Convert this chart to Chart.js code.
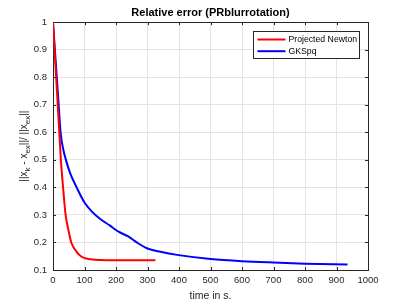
<!DOCTYPE html>
<html>
<head>
<meta charset="utf-8">
<script src="https://cdn.jsdelivr.net/npm/chart.js@4"></script>
<style>
    html, body { margin: 0; padding: 0; background: #fff; }
</style>
</head>
<body>
<canvas id="error-chart" width="407" height="304"></canvas>
<script>
// Relative error vs. time

// Projected Newton
const newtonTime  = [0, 5, 10, 15, 20, 25, 32, 40, 49, 58, 75, 91, 112, 150, 200, 325];
const newtonError = [1, 0.9, 0.8, 0.7, 0.6, 0.5, 0.4, 0.3, 0.245, 0.2, 0.166, 0.148, 0.14, 0.136, 0.135, 0.135];

// GKSpq
const gksTime  = [0, 6, 12, 18, 24, 33, 41, 55, 75, 100, 122, 150, 180, 208, 240, 266, 298, 341, 399, 500, 600, 700, 800, 935];
const gksError = [1, 0.9, 0.8, 0.7, 0.6, 0.536, 0.5, 0.45, 0.4, 0.345, 0.314, 0.285, 0.262, 0.239, 0.221, 0.2, 0.179, 0.166, 0.154, 0.14, 0.132, 0.127, 0.123, 0.12];

const xTicks = [0, 100, 200, 300, 400, 500, 600, 700, 800, 900, 1000];
const yTicks = [0.1, 0.2, 0.3, 0.4, 0.5, 0.6, 0.7, 0.8, 0.9, 1];

const AXIS_COLOR = '#262626';
const FONT = '"Liberation Sans", Arial, Helvetica, sans-serif';

function toPoints(xs, ys) {
    return xs.map(function(x, i) { return { x: x, y: ys[i] }; });
}

// Box around the axes with inward tick marks (MATLAB style)
const axesBox = {
    id: 'axesBox',
    beforeDatasetsDraw(chart) {
        const ctx = chart.ctx;
        const a = chart.chartArea;
        const xs = chart.scales.x, ys = chart.scales.y;
        ctx.save();
        ctx.strokeStyle = AXIS_COLOR;
        ctx.lineWidth = 1;
        ctx.strokeRect(Math.round(a.left) + 0.5, Math.round(a.top) + 0.5,
                       Math.round(a.right - a.left), Math.round(a.bottom - a.top));
        ctx.beginPath();
        xTicks.forEach(function(v) {
            const px = Math.round(xs.getPixelForValue(v)) + 0.5;
            ctx.moveTo(px, a.bottom); ctx.lineTo(px, a.bottom - 3);
            ctx.moveTo(px, a.top); ctx.lineTo(px, a.top + 3);
        });
        yTicks.forEach(function(v) {
            const py = Math.round(ys.getPixelForValue(v)) + 0.5;
            ctx.moveTo(a.left, py); ctx.lineTo(a.left + 3, py);
            ctx.moveTo(a.right, py); ctx.lineTo(a.right - 3, py);
        });
        ctx.stroke();
        ctx.restore();
    }
};

// y axis label with subscripts, rotated
const yLabel = {
    id: 'yLabel',
    afterDraw(chart) {
        const ctx = chart.ctx;
        const a = chart.chartArea;
        const parts = [['||x', 0], ['k', 1], [' - x', 0], ['ex', 1], ['||/ ||x', 0], ['ex', 1], ['||', 0]];
        const mainFont = '10px ' + FONT, subFont = '8px ' + FONT;
        ctx.save();
        let total = 0;
        parts.forEach(function(p) {
            ctx.font = p[1] ? subFont : mainFont;
            total += ctx.measureText(p[0]).width;
        });
        ctx.translate(27, (a.top + a.bottom) / 2);
        ctx.rotate(-Math.PI / 2);
        ctx.fillStyle = AXIS_COLOR;
        ctx.textBaseline = 'alphabetic';
        let x = -total / 2;
        parts.forEach(function(p) {
            ctx.font = p[1] ? subFont : mainFont;
            ctx.fillText(p[0], x, p[1] ? 3 : 0);
            x += ctx.measureText(p[0]).width;
        });
        ctx.restore();
    }
};

// Legend box in the upper right corner of the axes
const boxLegend = {
    id: 'boxLegend',
    afterDraw(chart) {
        const ctx = chart.ctx;
        const a = chart.chartArea;
        const w = 106, h = 27;
        const left = Math.round(a.right - 9 - w) + 0.5;
        const top = Math.round(a.top + 9) + 0.5;
        ctx.save();
        ctx.fillStyle = '#fff';
        ctx.fillRect(left, top, w, h);
        ctx.strokeStyle = AXIS_COLOR;
        ctx.lineWidth = 1;
        ctx.strokeRect(left, top, w, h);
        ctx.font = '8.7px ' + FONT;
        ctx.textBaseline = 'middle';
        chart.data.datasets.forEach(function(ds, i) {
            const y = top + 8 + i * 11.7;
            ctx.strokeStyle = ds.borderColor;
            ctx.lineWidth = 2;
            ctx.beginPath();
            ctx.moveTo(left + 4, y);
            ctx.lineTo(left + 32, y);
            ctx.stroke();
            ctx.fillStyle = '#000';
            ctx.fillText(ds.label, left + 35, y);
        });
        ctx.restore();
    }
};

function createErrorChart() {
    const ctx = document.getElementById('error-chart').getContext('2d');

    const data = {
        datasets: [
            {
                label: 'Projected Newton',
                data: toPoints(newtonTime, newtonError),
                borderColor: '#ff0000',
                borderWidth: 2,
                pointRadius: 0,
                cubicInterpolationMode: 'monotone',
                fill: false
            },
            {
                label: 'GKSpq',
                data: toPoints(gksTime, gksError),
                borderColor: '#0000ff',
                borderWidth: 2,
                pointRadius: 0,
                cubicInterpolationMode: 'monotone',
                fill: false
            }
        ]
    };

    const config = {
        type: 'line',
        data: data,
        options: {
            responsive: false,
            animation: false,
            devicePixelRatio: 1,
            layout: {
                padding: { left: 0, right: 39, top: 0, bottom: 0 }
            },
            plugins: {
                legend: { display: false },
                tooltip: { enabled: false },
                title: {
                    display: true,
                    fullSize: false,
                    text: 'Relative error (PRblurrotation)',
                    color: '#000',
                    font: { family: FONT, size: 11, weight: 'bold', lineHeight: 1.2 },
                    padding: { top: 6, bottom: 3 }
                }
            },
            scales: {
                x: {
                    type: 'linear',
                    min: 0,
                    max: 1000,
                    afterFit: function(scale) { scale.height = 34; },
                    afterBuildTicks: function(scale) {
                        scale.ticks = xTicks.map(function(v) { return { value: v }; });
                    },
                    ticks: {
                        color: AXIS_COLOR,
                        font: { family: FONT, size: 9.5 },
                        padding: 5,
                        maxRotation: 0,
                        callback: function(value) { return String(value); }
                    },
                    grid: { color: '#e4e4e4', drawTicks: false },
                    border: { display: false },
                    title: {
                        display: true,
                        text: 'time in s.',
                        color: AXIS_COLOR,
                        font: { family: FONT, size: 10.5, lineHeight: 1.2 },
                        padding: { top: 0, bottom: 2 }
                    }
                },
                y: {
                    type: 'linear',
                    min: 0.1,
                    max: 1,
                    afterFit: function(scale) { scale.width = 53; },
                    afterBuildTicks: function(scale) {
                        scale.ticks = yTicks.map(function(v) { return { value: v }; });
                    },
                    ticks: {
                        color: AXIS_COLOR,
                        font: { family: FONT, size: 9.5 },
                        padding: 6,
                        callback: function(value) {
                            return String(Math.round(value * 10) / 10);
                        }
                    },
                    grid: { color: '#e4e4e4', drawTicks: false },
                    border: { display: false }
                }
            }
        },
        plugins: [axesBox, yLabel, boxLegend]
    };

    new Chart(ctx, config);
}

createErrorChart();
</script>
</body>
</html>
